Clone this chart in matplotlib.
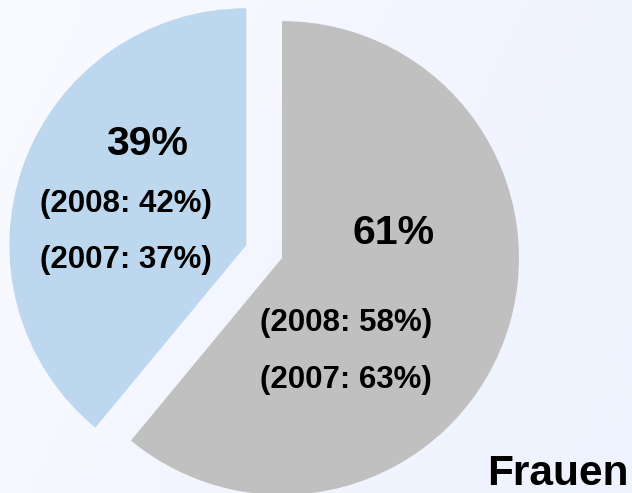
import numpy as np
import matplotlib.pyplot as plt
from matplotlib.colors import LinearSegmentedColormap

# data
labels = ["Männer", "Frauen"]
shares = [61, 39]
colors = ["#c0c0c0", "#bdd7ee"]
explode = [0, 0.16]

main_text = ["61%", "39%"]
text_2008 = ["(2008: 58%)", "(2008: 42%)"]
text_2007 = ["(2007: 63%)", "(2007: 37%)"]

plt.rcParams['font.family'] = ['Liberation Sans', 'DejaVu Sans']


def main():
    fig = plt.figure(figsize=(6.32, 4.93), dpi=100)
    ax = fig.add_axes([0, 0, 1, 1])

    xlim = (-1.19, 1.477)
    ylim = (-0.992, 1.089)

    # soft background gradient (whitish left, pale blue right)
    bg = LinearSegmentedColormap.from_list("bg", ["#fafbff", "#f4f6ff", "#eef3fe"])
    gx, gy = np.meshgrid(np.linspace(0, 1, 200), np.linspace(0, 1, 200))
    grad = np.clip(0.8 * gx + 0.3 * (1 - gy), 0, 1)
    ax.imshow(grad, cmap=bg, extent=(xlim[0], xlim[1], ylim[0], ylim[1]),
              origin="lower", aspect="auto", zorder=0, vmin=0, vmax=1)

    wedges, _ = ax.pie(shares, colors=colors, explode=explode,
                       startangle=90, counterclock=False,
                       wedgeprops=dict(linewidth=0, zorder=1))

    ax.set_aspect("auto")
    ax.set_xlim(*xlim)
    ax.set_ylim(*ylim)
    ax.axis("off")

    # labels, in pie units (radius 1 = 237 px)
    def px(x, y):
        return (x - 282) / 237.0, (258 - y) / 237.0

    big = dict(fontsize=29.5, fontweight="bold", ha="center", va="baseline")
    small = dict(fontsize=22.5, fontweight="bold", ha="center", va="baseline")

    ax.text(*px(394, 244), main_text[0], **big)
    ax.text(*px(346, 331), text_2008[0], **small)
    ax.text(*px(346, 388), text_2007[0], **small)

    ax.text(*px(147, 155), main_text[1], **big)
    ax.text(*px(126, 212), text_2008[1], **small)
    ax.text(*px(126, 268), text_2007[1], **small)

    ax.text(*px(629, 485), labels[1], fontsize=30.5, fontweight="bold",
            ha="right", va="baseline")

    fig.savefig("out.png", dpi=100)


if __name__ == '__main__':
    main()
